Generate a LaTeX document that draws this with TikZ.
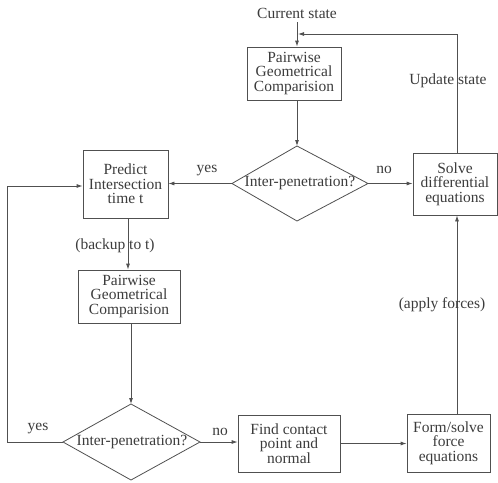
\documentclass[tikz,border=0pt]{standalone}
\usepackage{fontspec}
\setmainfont{Liberation Serif}
\usetikzlibrary{shapes.geometric,arrows.meta}
\definecolor{ink}{RGB}{80,80,80}
\definecolor{txt}{RGB}{60,60,60}
\begin{document}
\begin{tikzpicture}[x=1pt,y=-1pt,
  every node/.style={font=\fontsize{15.5}{14.5}\selectfont, text=txt},
  box/.style={draw=ink, line width=0.8pt, align=center, inner sep=1pt},
  dia/.style={draw=ink, line width=0.8pt},
  conn/.style={draw=ink, line width=0.8pt, -{Latex[length=6pt,width=4pt]}},
  plain/.style={draw=ink, line width=0.8pt},
  lab/.style={inner sep=1pt}]
\useasboundingbox (0,0) rectangle (498,482);
% nodes
\node[lab] (cs) at (297,13) {Current state};
\node[box, minimum width=94pt, minimum height=53pt] (p1) at (294,73.5) {Pairwise\\Geometrical\\Comparision};
\draw[dia] (297,146) -- (368,183.5) -- (297,221) -- (232,183.5) -- cycle;
\node[lab] (d1) at (300,183.5) {Inter-penetration?};
\coordinate (d1t) at (297,146);
\coordinate (d1l) at (232,183.5);
\coordinate (d1r) at (368,183.5);
\node[box, minimum width=84pt, minimum height=62pt] (sv) at (455,184) {Solve\\differential\\equations};
\node[box, minimum width=85pt, minimum height=68pt] (pr) at (125.5,184) {Predict\\Intersection\\time t};
\node[box, minimum width=102pt, minimum height=53pt] (p2) at (129,296.5) {Pairwise\\Geometrical\\Comparision};
\draw[dia] (131,404) -- (200,442) -- (131,480) -- (63,442) -- cycle;
\node[lab] (d2) at (132,442) {Inter-penetration?};
\coordinate (d2t) at (131,404);
\coordinate (d2l) at (63,442);
\coordinate (d2r) at (200,442);
\node[box, minimum width=102pt, minimum height=57pt] (fc) at (289,443.5) {Find contact\\point and\\normal};
\node[box, minimum width=83pt, minimum height=58pt] (fs) at (448.5,443) {Form/solve\\force\\equations};
% connectors
\coordinate (cs1) at (297,22);
\draw[conn] (cs1) -- (p1.north -| cs1);
\draw[conn] (p1.south -| d1t) -- (d1t);
\draw[conn] (d1r) -- (sv.west |- d1r);
\node[lab] (n1) at (384,170) {no};
\draw[conn] (d1l) -- (pr.east |- d1l);
\node[lab] (y1) at (207,171) {yes};
\coordinate (top) at (457,34);
\coordinate (tin) at (298,34);
\draw[plain] (sv.north -| top) -- (top);
\draw[conn] (top) -- (tin);
\node[lab] (us) at (448,81) {Update state};
\coordinate (pc) at (128,218);
\draw[conn] (pr.south -| pc) -- (p2.north -| pc);
\node[lab] (bk) at (115,246) {(backup to t)};
\draw[conn] (p2.south -| d2t) -- (d2t);
\coordinate (ll) at (7,442);
\coordinate (lu) at (7,186);
\draw[plain] (d2l) -- (ll) -- (lu);
\draw[conn] (lu) -- (pr.west |- lu);
\node[lab] (y2) at (38,429) {yes};
\draw[conn] (d2r) -- (fc.west |- d2r);
\node[lab] (n2) at (220,432) {no};
\draw[conn] (fc.east) -- (fs.west |- fc.east);
\coordinate (fu) at (457,414);
\draw[conn] (fs.north -| fu) -- (sv.south -| fu);
\node[lab] (af) at (442,305) {(apply forces)};
\end{tikzpicture}
\end{document}
